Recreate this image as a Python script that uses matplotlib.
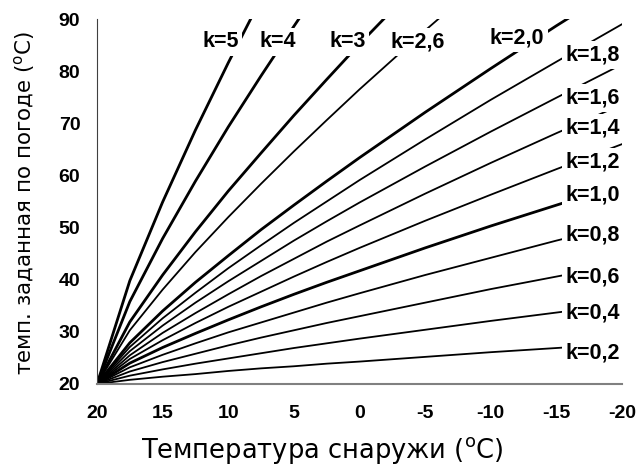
import matplotlib
matplotlib.use("Agg")
import matplotlib.pyplot as plt

plt.rcParams["axes.unicode_minus"] = False

# outdoor temperature points (degC)
t_out = [20, 17.5, 15, 12.5, 10, 7.5, 5, 2.5, 0, -5, -10, -15, -20]

# set flow temperature for each curve
curves = {
    "0,2": [20, 20.8, 21.4, 21.9, 22.5, 23.0, 23.4, 23.9, 24.3, 25.2, 26.1, 26.9, 27.7],
    "0,4": [20, 21.6, 22.8, 23.9, 24.9, 25.9, 26.9, 27.8, 28.7, 30.4, 32.1, 33.7, 35.3],
    "0,6": [20, 22.4, 24.2, 25.8, 27.4, 28.9, 30.3, 31.7, 33.0, 35.6, 38.2, 40.6, 43.0],
    "0,8": [20, 23.2, 25.6, 27.8, 29.9, 31.8, 33.7, 35.6, 37.4, 40.9, 44.2, 47.5, 50.6],
    "1,0": [20, 24.0, 27.0, 29.7, 32.3, 34.8, 37.2, 39.5, 41.7, 46.1, 50.3, 54.3, 58.3],
    "1,2": [20, 24.8, 28.4, 31.7, 34.8, 37.7, 40.6, 43.4, 46.1, 51.3, 56.3, 61.2, 66.0],
    "1,4": [20, 25.5, 29.8, 33.6, 37.2, 40.7, 44.0, 47.3, 50.4, 56.5, 62.4, 68.1, 73.6],
    "1,6": [20, 26.3, 31.2, 35.6, 39.7, 43.6, 47.5, 51.2, 54.8, 61.7, 68.4, 74.9, 81.3],
    "1,8": [20, 27.1, 32.6, 37.5, 42.2, 46.6, 50.9, 55.0, 59.1, 66.9, 74.5, 81.8, 89.0],
    "2,0": [20, 27.9, 34.0, 39.5, 44.6, 49.6, 54.3, 58.9, 63.4, 72.1, 80.5, 88.7, 96.6],
    "2,6": [20, 30.3, 38.1, 45.3, 52.0, 58.4, 64.6, 70.6, 76.5, 87.8, 98.7],
    "3": [20, 31.9, 40.9, 49.2, 57.0, 64.3, 71.5, 78.4, 85.2, 98.2],
    "4": [20, 35.8, 47.9, 58.9, 69.3, 79.1, 88.6, 97.9],
    "5": [20, 39.8, 54.9, 68.7, 81.6, 93.9],
}
thick = ["1,0", "2,0", "3", "4", "5"]

# where the "k=" labels sit
label_pos = {
    "5": (10.6, 85.6), "4": (6.2, 85.6), "3": (0.9, 85.6), "2,6": (-4.4, 85.6),
    "2,0": (-12.0, 86.4), "1,8": (-17.8, 83.1), "1,6": (-17.8, 74.9),
    "1,4": (-17.8, 69.1), "1,2": (-17.8, 62.6), "1,0": (-17.8, 56.3),
    "0,8": (-17.8, 48.6), "0,6": (-17.8, 40.5), "0,4": (-17.8, 33.6),
    "0,2": (-17.8, 26.0),
}

x_ticks = [20, 15, 10, 5, 0, -5, -10, -15, -20]
y_ticks = [20, 30, 40, 50, 60, 70, 80, 90]

fig = plt.figure(figsize=(6.38, 4.68), dpi=100)
ax = fig.add_axes([97 / 638, 1 - 384 / 468, 525 / 638, 365 / 468])

for k, vals in curves.items():
    lw = 2.0 if k in thick else 1.3
    ax.plot(t_out[:len(vals)], vals, color="black", lw=lw, zorder=2)

for k, (lx, ly) in label_pos.items():
    ax.text(lx, ly, "k=" + k, ha="center", va="center", fontsize=15.5,
            fontweight="bold", family="Liberation Sans", zorder=5,
            bbox=dict(facecolor="white", edgecolor="none", pad=2.5))

ax.set_xlim(20, -20)
ax.set_ylim(20, 90)
ax.set_xticks(x_ticks)
ax.set_yticks(y_ticks)
ax.tick_params(length=0)
ax.tick_params(axis="x", pad=15)
ax.tick_params(axis="y", pad=12)
for lab in ax.get_xticklabels() + ax.get_yticklabels():
    lab.set_family("Liberation Sans")
    lab.set_fontweight("bold")
    lab.set_fontsize(14)

ax.spines["top"].set_visible(False)
ax.spines["right"].set_visible(False)
ax.spines["left"].set_color("#404040")
ax.spines["bottom"].set_color("#808080")
ax.spines["bottom"].set_linewidth(1.5)

fig.text(322 / 638, 1 - 451 / 468, "Температура снаружи ($^{\\rm o}$C)",
         ha="center", va="center", fontsize=18.5, family="DejaVu Sans")
fig.text(25 / 638, 1 - 203 / 468, "темп. заданная по погоде ($^{\\rm o}$C)",
         ha="center", va="center", rotation=90, fontsize=15.4, family="DejaVu Sans")

fig.savefig("out.png", dpi=100)
